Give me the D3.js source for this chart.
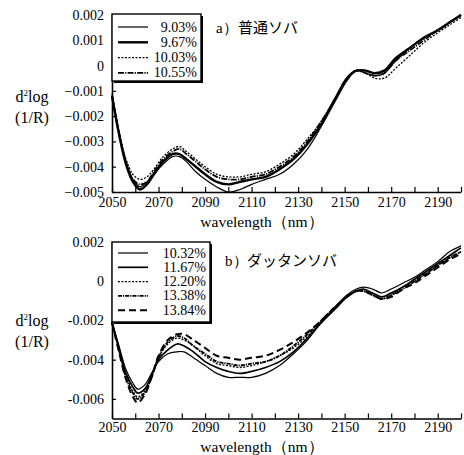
<!DOCTYPE html>
<html>
<head>
<meta charset="utf-8">
<script src="https://cdn.jsdelivr.net/npm/d3@7"></script>
<style>
body{margin:0;background:#fff;}
svg text{font-family:'Liberation Serif','Times New Roman','DejaVu Serif',serif;fill:#000;}
svg text.jp{font-family:'Noto Sans CJK JP',sans-serif;}
.line{fill:none;stroke:#000;}
</style>
</head>
<body>
<svg id="chart" width="464" height="455"></svg>
<script>
// ---- panel a data (普通ソバ)
const waveA = [2050,2053,2056,2059,2062,2065,2068,2072,2076,2079,2082,2086,2090,2095,2100,2105,2110,2116,2122,2128,2134,2140,2146,2151,2155,2159,2163,2167,2172,2178,2184,2190,2195,2200];
const a903  = [-0.0011,-0.0026,-0.0038,-0.0045,-0.0048,-0.0046,-0.0043,-0.0039,-0.0036,-0.0036,-0.0038,-0.0042,-0.0045,-0.0048,-0.0050,-0.0049,-0.0047,-0.0045,-0.0043,-0.0039,-0.0033,-0.0024,-0.0014,-0.0006,-0.0002,-0.0003,-0.0004,-0.0003,0.0002,0.0007,0.0011,0.0014,0.0017,0.0020];
const a967  = [-0.0012,-0.0027,-0.0039,-0.0046,-0.0049,-0.0047,-0.0043,-0.0038,-0.0035,-0.0035,-0.0037,-0.0040,-0.0043,-0.0046,-0.0047,-0.0046,-0.0045,-0.0044,-0.0041,-0.0037,-0.0031,-0.0023,-0.0013,-0.0005,-0.0002,-0.0002,-0.0003,-0.0002,0.0003,0.0007,0.0011,0.0014,0.0017,0.0020];
const a1003 = [-0.0012,-0.0026,-0.0037,-0.0043,-0.0045,-0.0044,-0.0041,-0.0036,-0.0033,-0.0032,-0.0034,-0.0037,-0.0040,-0.0043,-0.0044,-0.0044,-0.0043,-0.0042,-0.0039,-0.0035,-0.0029,-0.0022,-0.0013,-0.0005,-0.0002,-0.0003,-0.0005,-0.0005,-0.0001,0.0004,0.0009,0.0013,0.0016,0.0019];
const a1055 = [-0.0012,-0.0027,-0.0038,-0.0045,-0.0047,-0.0046,-0.0042,-0.0037,-0.0034,-0.0033,-0.0035,-0.0038,-0.0041,-0.0044,-0.0045,-0.0045,-0.0044,-0.0043,-0.0040,-0.0036,-0.0030,-0.0022,-0.0013,-0.0005,-0.0002,-0.0003,-0.0004,-0.0003,0.0002,0.0006,0.0010,0.0014,0.0017,0.0020];
const labelsA = ["9.03%","9.67%","10.03%","10.55%"];
const ticksA = [0.002,0.001,0,-0.001,-0.002,-0.003,-0.004,-0.005];

// ---- panel b data (ダッタンソバ)
const waveB = [2050,2053,2056,2059,2061,2064,2067,2070,2074,2078,2081,2085,2090,2095,2100,2105,2110,2116,2122,2128,2134,2140,2146,2151,2155,2158,2162,2166,2170,2175,2180,2185,2190,2195,2200];
const b1032 = [-0.0021,-0.0033,-0.0045,-0.0052,-0.0055,-0.0053,-0.0047,-0.0041,-0.0037,-0.0036,-0.0036,-0.0039,-0.0043,-0.0047,-0.0049,-0.0049,-0.0049,-0.0047,-0.0043,-0.0037,-0.0030,-0.0021,-0.0013,-0.0007,-0.0004,-0.0003,-0.0004,-0.0006,-0.0004,-0.0001,0.0002,0.0006,0.0010,0.0015,0.0018];
const b1167 = [-0.0021,-0.0034,-0.0047,-0.0054,-0.0057,-0.0055,-0.0048,-0.0040,-0.0035,-0.0032,-0.0033,-0.0036,-0.0041,-0.0044,-0.0046,-0.0047,-0.0046,-0.0044,-0.0041,-0.0036,-0.0029,-0.0021,-0.0014,-0.0008,-0.0005,-0.0004,-0.0006,-0.0008,-0.0006,-0.0003,0.0001,0.0005,0.0009,0.0013,0.0017];
const b1220 = [-0.0021,-0.0035,-0.0048,-0.0056,-0.0059,-0.0056,-0.0048,-0.0039,-0.0032,-0.0029,-0.0030,-0.0033,-0.0038,-0.0042,-0.0043,-0.0044,-0.0043,-0.0041,-0.0038,-0.0034,-0.0028,-0.0021,-0.0014,-0.0008,-0.0005,-0.0005,-0.0007,-0.0009,-0.0007,-0.0003,0.0000,0.0004,0.0008,0.0012,0.0015];
const b1338 = [-0.0021,-0.0035,-0.0049,-0.0057,-0.0060,-0.0057,-0.0049,-0.0039,-0.0031,-0.0028,-0.0029,-0.0033,-0.0037,-0.0041,-0.0042,-0.0043,-0.0042,-0.0041,-0.0038,-0.0033,-0.0027,-0.0020,-0.0013,-0.0008,-0.0005,-0.0005,-0.0007,-0.0009,-0.0007,-0.0004,0.0000,0.0004,0.0008,0.0012,0.0015];
const b1384 = [-0.0021,-0.0036,-0.0050,-0.0059,-0.0062,-0.0058,-0.0049,-0.0038,-0.0030,-0.0027,-0.0027,-0.0030,-0.0034,-0.0038,-0.0039,-0.0040,-0.0039,-0.0038,-0.0035,-0.0031,-0.0026,-0.0020,-0.0013,-0.0008,-0.0005,-0.0005,-0.0007,-0.0009,-0.0008,-0.0004,-0.0001,0.0003,0.0007,0.0011,0.0014];
const labelsB = ["10.32%","11.67%","12.20%","13.38%","13.84%"];
const ticksB = [0.002,0,-0.002,-0.004,-0.006];

const xTicks = d3.range(2050, 2201, 10);

// line styles per series
const stylesA = [
  {w:1.2, dash:null},
  {w:2.4, dash:null},
  {w:1.3, dash:"2,1.5"},
  {w:1.8, dash:"6,1.2,1.2,1.2"}
];
const stylesB = [
  {w:1.2, dash:null},
  {w:1.7, dash:null},
  {w:1.3, dash:"2,1.5"},
  {w:1.9, dash:"4,1,1.2,1"},
  {w:2.0, dash:"7,4"}
];

const serif = "'Liberation Serif','Times New Roman','DejaVu Serif',serif";
const svg = d3.select("#chart");
const left = 112, right = 461;

function panel(o){
  const x = d3.scaleLinear().domain([2050,2200]).range([left,right]);
  const y = d3.scaleLinear().domain(o.yDomain).range([o.bottom,o.top]);
  const g = svg.append("g");

  const line = d3.line().x(d=>x(d[0])).y(d=>y(d[1])).curve(d3.curveCatmullRom);
  o.series.forEach((s,i)=>{
    const pts = o.wave.map((w,j)=>[w,s[j]]);
    g.append("path").attr("class","line")
      .attr("d",line(pts))
      .attr("stroke-width",o.styles[i].w)
      .attr("stroke-dasharray",o.styles[i].dash);
  });

  const xa = g.append("g").attr("transform",`translate(0,${o.bottom})`)
    .call(d3.axisBottom(x).tickValues(xTicks).tickSize(-5).tickSizeOuter(0)
      .tickPadding(o.xPad).tickFormat(d=>(d-2050)%20===0 ? d : ""));
  const ya = g.append("g").attr("transform",`translate(${left},0)`)
    .call(d3.axisLeft(y).tickValues(o.yTicks).tickSize(-4).tickSizeOuter(0)
      .tickPadding(8).tickFormat(o.yFmt));
  [xa,ya].forEach(a=>{
    a.attr("font-family",null);
    a.select(".domain").attr("stroke-width",1.6);
    a.selectAll(".tick line").attr("stroke-width",1.2);
    a.selectAll("text").attr("font-size",14).style("font-family",serif);
  });

  g.append("text").attr("x",262).attr("y",o.bottom+o.labGap)
    .attr("text-anchor","middle").attr("font-size",15.5).text("wavelength（nm）");

  g.append("text").attr("x",32).attr("y",o.titleY)
    .attr("text-anchor","middle").attr("font-size",16).html("d<tspan dy='-6' font-size='9'>2</tspan><tspan dy='6'>log</tspan>");
  g.append("text").attr("x",32).attr("y",o.titleY+21)
    .attr("text-anchor","middle").attr("font-size",16).text("(1/R)");

  g.append("text").attr("x",o.noteX).attr("y",o.noteY)
    .attr("font-size",15).text(o.noteA);
  g.append("text").attr("class","jp").attr("x",o.noteX+22).attr("y",o.noteY)
    .attr("font-size",15).text(o.noteB);

  // legend box with heavy right/bottom edge
  const lg = g.append("g");
  const lb = o.legend;
  lg.append("rect").attr("x",lb.x+2).attr("y",lb.y+2).attr("width",lb.w).attr("height",lb.h).attr("fill","#000");
  lg.append("rect").attr("x",lb.x).attr("y",lb.y).attr("width",lb.w).attr("height",lb.h)
    .attr("fill","#fff").attr("stroke","#000").attr("stroke-width",1.4);
  o.labels.forEach((t,i)=>{
    const ly = lb.y + lb.first + i*lb.step;
    lg.append("line").attr("x1",lb.x+6).attr("x2",lb.x+36).attr("y1",ly).attr("y2",ly)
      .attr("stroke","#000").attr("stroke-width",o.styles[i].w)
      .attr("stroke-dasharray",o.styles[i].dash);
    lg.append("text").attr("x",lb.x+lb.w-4).attr("y",ly+4.5)
      .attr("text-anchor","end").attr("font-size",14).text(t);
  });
}

panel({
  wave:waveA, series:[a903,a967,a1003,a1055], styles:stylesA, labels:labelsA,
  yDomain:[-0.005,0.002], top:15, bottom:192, yTicks:ticksA,
  yFmt:d=>d===0 ? "0" : d3.format(".3f")(d).replace("-","\u2212"),
  xPad:5, labGap:35, titleY:102, noteX:216, noteY:33, noteA:"a）", noteB:"普通ソバ",
  legend:{x:112,y:14,w:89,h:67,first:13,step:15.3}
});

panel({
  wave:waveB, series:[b1032,b1167,b1220,b1338,b1384], styles:stylesB, labels:labelsB,
  yDomain:[-0.007,0.002], top:242, bottom:418.5, yTicks:ticksB,
  yFmt:d=>d===0 ? "0" : d3.format(".3f")(d).replace("\u2212","-"),
  xPad:4, labGap:33, titleY:326, noteX:225, noteY:266, noteA:"b）", noteB:"ダッタンソバ",
  legend:{x:112,y:242,w:98,h:80,first:11,step:14.3}
});
</script>
</body>
</html>
